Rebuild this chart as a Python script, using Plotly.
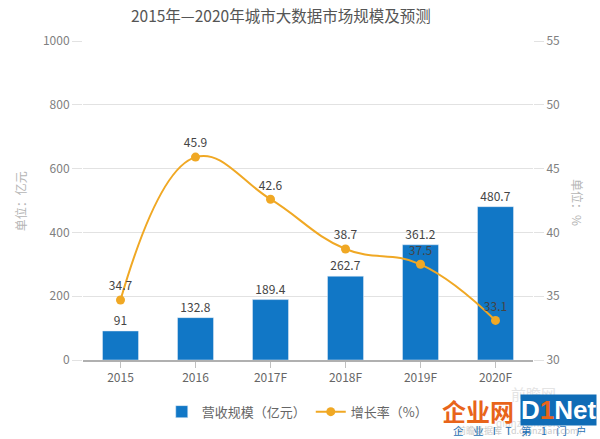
import plotly.graph_objects as go

years = ['2015', '2016', '2017F', '2018F', '2019F', '2020F']
revenue = [91, 132.8, 189.4, 262.7, 361.2, 480.7]
growth = [34.7, 45.9, 42.6, 38.7, 37.5, 33.1]
left_ticks = [0, 200, 400, 600, 800, 1000]
right_ticks = [30, 35, 40, 45, 50, 55]

blue = '#1177c6'
orange = '#f0a824'
grid = '#e2e2e2'
tick_grey = '#808080'
label_grey = '#444444'
cjk = 'Noto Sans CJK SC'

fig = go.Figure()
fig.add_trace(go.Bar(x=years, y=revenue, name='营收规模（亿元）',
                     marker_color=blue, width=0.48,
                     text=revenue, textposition='outside',
                     textfont=dict(size=12, color=label_grey),
                     cliponaxis=False))
fig.add_trace(go.Scatter(x=years, y=growth, name='增长率（%）', yaxis='y2',
                         mode='lines+markers+text',
                         line=dict(color=orange, width=2, shape='spline', smoothing=1.2),
                         marker=dict(size=9, color=orange),
                         text=growth, textposition='top center',
                         textfont=dict(size=12, color=label_grey),
                         cliponaxis=False))

fig.update_layout(
    width=600, height=439,
    margin=dict(l=83, r=67, t=41, b=79),
    plot_bgcolor='white', paper_bgcolor='white',
    font=dict(family=cjk, color=tick_grey, size=12),
    title=dict(text='2015年—2020年城市大数据市场规模及预测', x=0.468, xanchor='center',
               y=0.963, yanchor='middle', font=dict(size=15.5, color='#555555')),
    bargap=0.52,
    showlegend=True,
    legend=dict(orientation='h', x=0.175, xanchor='left', y=-0.115, yanchor='top',
                font=dict(size=13, color='#666666')),
    xaxis=dict(showline=True, linecolor='#b0b0b0', linewidth=2, ticks='outside',
               ticklen=6, tickcolor='#c0c0c0', showgrid=False,
               tickfont=dict(size=12, color='#666666')),
    yaxis=dict(range=[0, 1000], tickvals=left_ticks, gridcolor=grid, gridwidth=1,
               ticks='outside', ticklen=10, tickcolor=grid, zeroline=False,
               tickfont=dict(size=12, color=tick_grey)),
    yaxis2=dict(range=[30, 55], tickvals=right_ticks, overlaying='y', side='right',
                showgrid=False, ticks='outside', ticklen=10, tickcolor=grid, zeroline=False,
                tickfont=dict(size=12, color=tick_grey)),
)


def note(text, x, y, size, color, angle=0, family=cjk, bg=None):
    fig.add_annotation(text=text, xref='paper', yref='paper', x=x, y=y,
                       xanchor='center', yanchor='middle', textangle=angle,
                       showarrow=False, bgcolor=bg, borderpad=0,
                       font=dict(size=size, color=color, family=family))


note('单位：亿元', -0.14, 0.498, 12, '#b5b5b5', angle=-90)
note('单位：%', 1.1, 0.495, 12, '#b5b5b5', angle=90)

# watermark in the bottom right corner
note('前瞻网', 1.0, -0.105, 15, '#e4e4e4')
note('qianzhan.com', 0.99, -0.195, 10, '#dddddd')
note('前瞻数据库（d.qianzhan.com）', 0.975, -0.222, 9, '#cccccc')
note('<b>企业网</b>', 0.878, -0.157, 24, '#e8641a')
note('<b>D<span style="color:#e8641a">1</span>Net</b>', 1.056, -0.157, 26, 'white',
     family='Liberation Sans', bg='#0f6cb6')
note('企\u00a0\u00a0\u00a0\u00a0业\u00a0\u00a0\u00a0\u00a0I\u00a0\u00a0\u00a0\u00a0T\u00a0\u00a0\u00a0\u00a0第'
     '\u00a0\u00a0\u00a0\u00a01\u00a0\u00a0\u00a0\u00a0门\u00a0\u00a0\u00a0\u00a0户',
     0.971, -0.222, 10.5, '#1d6fb5')

fig.write_html("out.html", config={'displayModeBar': False},
               post_script="document.body.style.margin='0';")
